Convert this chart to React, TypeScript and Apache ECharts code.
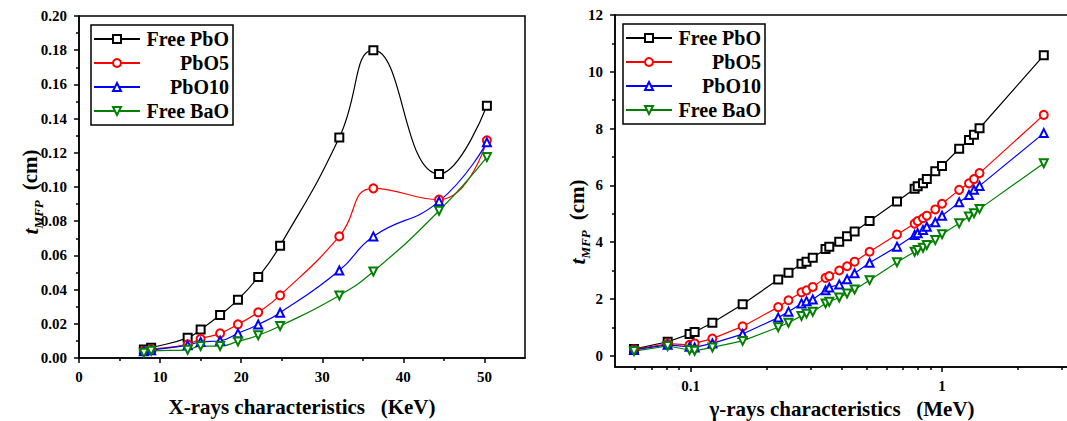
import React, { useEffect, useRef } from "react";
import * as echarts from "echarts";

const seriesNames = ["Free PbO", "PbO5", "PbO10", "Free BaO"];
const seriesColors = ["#000000", "#ff0000", "#0000ff", "#008000"];
const seriesSymbols = ["emptyRect", "emptyCircle", "emptyTriangle", "emptyTriangle"];
const seriesRotations = [0, 0, 0, 180];

// Left chart: X-rays (KeV)
const xrayEnergies = [8.0, 8.9, 13.4, 15.0, 17.4, 19.6, 22.1, 24.8, 32.1, 36.3, 44.4, 50.3];
const xrayFreePbO = [0.005, 0.006, 0.0118, 0.0166, 0.0251, 0.0341, 0.0473, 0.0657, 0.129, 0.18, 0.1076, 0.1475];
const xrayPbO5 = [0.0042, 0.005, 0.008, 0.0112, 0.0144, 0.0197, 0.0267, 0.0366, 0.0711, 0.0992, 0.0926, 0.1273];
const xrayPbO10 = [0.004, 0.0046, 0.0075, 0.0094, 0.0101, 0.0144, 0.0196, 0.0265, 0.0512, 0.0711, 0.0916, 0.1261];
const xrayFreeBaO = [0.003, 0.0042, 0.0048, 0.007, 0.007, 0.0097, 0.0133, 0.0187, 0.0366, 0.0506, 0.0861, 0.1175];

// Right chart: gamma-rays (MeV)
const gammaEnergies = [0.0595, 0.081, 0.099, 0.1037, 0.122, 0.161, 0.223, 0.245, 0.276, 0.289, 0.306, 0.344, 0.356, 0.39, 0.419, 0.449, 0.515, 0.662, 0.778, 0.8, 0.84, 0.87, 0.94, 1.0, 1.17, 1.28, 1.34, 1.41, 2.54];
const gammaFreePbO = [0.23, 0.49, 0.76, 0.83, 1.16, 1.81, 2.68, 2.92, 3.24, 3.31, 3.45, 3.76, 3.84, 4.01, 4.21, 4.37, 4.74, 5.43, 5.88, 5.97, 6.07, 6.22, 6.5, 6.68, 7.29, 7.6, 7.78, 8.01, 10.58];
const gammaPbO5 = [0.22, 0.42, 0.38, 0.43, 0.6, 1.03, 1.71, 1.95, 2.23, 2.3, 2.42, 2.74, 2.8, 3.0, 3.15, 3.31, 3.66, 4.27, 4.65, 4.74, 4.84, 4.93, 5.15, 5.35, 5.84, 6.07, 6.22, 6.43, 8.48];
const gammaPbO10 = [0.2, 0.38, 0.31, 0.29, 0.43, 0.76, 1.34, 1.55, 1.84, 1.92, 1.98, 2.3, 2.4, 2.51, 2.69, 2.9, 3.27, 3.84, 4.25, 4.31, 4.43, 4.54, 4.7, 4.93, 5.4, 5.66, 5.84, 5.98, 7.84];
const gammaFreeBaO = [0.16, 0.34, 0.2, 0.17, 0.29, 0.52, 1.0, 1.16, 1.4, 1.48, 1.55, 1.84, 1.9, 2.05, 2.19, 2.33, 2.66, 3.29, 3.66, 3.72, 3.8, 3.9, 4.07, 4.28, 4.66, 4.9, 5.02, 5.17, 6.78];

// Tick values
const xrayXMajor = [0, 10, 20, 30, 40, 50];
const xrayXMinor = [5, 15, 25, 35, 45];
const xrayYMajor = [0, 0.02, 0.04, 0.06, 0.08, 0.1, 0.12, 0.14, 0.16, 0.18, 0.2];
const xrayYMinor = [0.01, 0.03, 0.05, 0.07, 0.09, 0.11, 0.13, 0.15, 0.17, 0.19];
const gammaXMajor = [0.1, 1];
const gammaXMinor = [0.06, 0.07, 0.08, 0.09, 0.2, 0.3, 0.4, 0.5, 0.6, 0.7, 0.8, 0.9, 2, 3];
const gammaYMajor = [0, 2, 4, 6, 8, 10, 12];
const gammaYMinor = [1, 3, 5, 7, 9, 11];

const FONT = "Liberation Serif";
const AXIS_COLOR = "#000";

function majorAxis(extra: any, ticks: number[], fmt: (v: number) => string, margin: number) {
  return {
    ...extra,
    splitLine: { show: false },
    axisLine: { show: true, onZero: false, lineStyle: { color: AXIS_COLOR, width: 1.5 } },
    axisTick: { show: true, inside: false, length: 5, customValues: ticks, lineStyle: { color: AXIS_COLOR, width: 1.5 } },
    axisLabel: {
      show: true,
      customValues: ticks,
      formatter: (v: number) => fmt(v),
      margin,
      color: "#000",
      fontFamily: FONT,
      fontWeight: "bold",
      fontSize: 15,
    },
  };
}

function minorAxis(extra: any, ticks: number[]) {
  return {
    ...extra,
    splitLine: { show: false },
    axisLine: { show: false, onZero: false },
    axisTick: { show: true, inside: false, length: 3, customValues: ticks, lineStyle: { color: AXIS_COLOR, width: 1.5 } },
    axisLabel: { show: false },
  };
}

const legendBase = {
  orient: "vertical",
  borderColor: "#000",
  borderWidth: 1.5,
  padding: [4, 4, 4, 2],
  itemWidth: 46,
  itemHeight: 10,
  itemGap: 4,
  formatter: (name: string) => `{n|${name}}`,
  textStyle: {
    fontFamily: FONT,
    fontWeight: "bold",
    fontSize: 20,
    color: "#000",
    rich: {
      n: { width: 84, align: "right", fontFamily: FONT, fontWeight: "bold", fontSize: 20, lineHeight: 20, color: "#000" },
    },
  },
  data: seriesNames,
};

const yTitleRich = {
  t: { fontSize: 22, fontStyle: "italic", fontWeight: "bold", fontFamily: FONT, lineHeight: 30, verticalAlign: "middle", fill: "#000" },
  s: { fontSize: 13, fontStyle: "italic", fontWeight: "bold", fontFamily: FONT, lineHeight: 14, verticalAlign: "bottom", fill: "#000" },
  c: { fontSize: 21, fontWeight: "bold", fontFamily: FONT, lineHeight: 30, verticalAlign: "middle", fill: "#000" },
};

export default function App() {
  const ref = useRef<HTMLDivElement>(null);
  useEffect(() => {
    if (!ref.current) return;
    const chart = echarts.init(ref.current, null, { renderer: "svg" });
    const xrayData = [xrayFreePbO, xrayPbO5, xrayPbO10, xrayFreeBaO];
    const gammaData = [gammaFreePbO, gammaPbO5, gammaPbO10, gammaFreeBaO];
    const series: any[] = [];
    seriesNames.forEach((name, i) => {
      series.push({
        type: "line",
        name,
        xAxisIndex: 0,
        yAxisIndex: 0,
        data: xrayEnergies.map((e, j) => [e, xrayData[i][j]]),
        smooth: true,
        symbol: seriesSymbols[i],
        symbolRotate: seriesRotations[i],
        symbolSize: 8,
        lineStyle: { color: seriesColors[i], width: 1.2 },
        itemStyle: { color: seriesColors[i], borderWidth: 1 },
      });
    });
    seriesNames.forEach((name, i) => {
      series.push({
        type: "line",
        name,
        xAxisIndex: 2,
        yAxisIndex: 2,
        data: gammaEnergies.map((e, j) => [e, gammaData[i][j]]),
        smooth: false,
        symbol: seriesSymbols[i],
        symbolRotate: seriesRotations[i],
        symbolSize: 8,
        lineStyle: { color: seriesColors[i], width: 1.2 },
        itemStyle: { color: seriesColors[i], borderWidth: 1 },
      });
    });

    const option: any = {
      animation: false,
      backgroundColor: "#fff",
      textStyle: { fontFamily: FONT },
      grid: [
        { left: 79, top: 16, width: 446, height: 342, show: true, borderColor: "#000", borderWidth: 1.5, backgroundColor: "transparent", outerBoundsMode: "none", containLabel: false },
        { left: 615, top: 15, width: 454, height: 352, show: true, borderColor: "#000", borderWidth: 1.5, backgroundColor: "transparent", outerBoundsMode: "none", containLabel: false },
      ],
      xAxis: [
        {
          ...majorAxis({ gridIndex: 0, type: "value", position: "bottom", min: 0, max: 55 }, xrayXMajor, (v) => String(v), 11),
          name: "X-rays characteristics   (KeV)",
          nameLocation: "middle",
          nameGap: 38,
          nameTextStyle: { fontFamily: FONT, fontWeight: "bold", fontSize: 21, color: "#000" },
        },
        minorAxis({ gridIndex: 0, type: "value", position: "bottom", min: 0, max: 55 }, xrayXMinor),
        {
          ...majorAxis({ gridIndex: 1, type: "log", logBase: 10, position: "bottom", min: 0.05, max: 3.2 }, gammaXMajor, (v) => String(Math.round(v * 10) / 10), 11),
          name: "γ-rays characteristics   (MeV)",
          nameLocation: "middle",
          nameGap: 31,
          nameTextStyle: { fontFamily: FONT, fontWeight: "bold", fontSize: 21, color: "#000" },
        },
        minorAxis({ gridIndex: 1, type: "log", logBase: 10, position: "bottom", min: 0.05, max: 3.2 }, gammaXMinor),
      ],
      yAxis: [
        majorAxis({ gridIndex: 0, type: "value", position: "left", min: 0, max: 0.2 }, xrayYMajor, (v) => v.toFixed(2), 12),
        minorAxis({ gridIndex: 0, type: "value", position: "left", min: 0, max: 0.2 }, xrayYMinor),
        majorAxis({ gridIndex: 1, type: "value", position: "left", min: -0.4, max: 12 }, gammaYMajor, (v) => String(Math.round(v)), 12),
        minorAxis({ gridIndex: 1, type: "value", position: "left", min: -0.4, max: 12 }, gammaYMinor),
      ],
      legend: [
        { ...legendBase, left: 91, top: 25 },
        { ...legendBase, left: 623, top: 24 },
      ],
      graphic: [
        {
          type: "text",
          x: 30,
          y: 192,
          rotation: Math.PI / 2,
          style: { text: "{t|t}{s|MFP}   {c|(cm)}", rich: yTitleRich, align: "center", verticalAlign: "middle" },
        },
        {
          type: "text",
          x: 577,
          y: 222,
          rotation: Math.PI / 2,
          style: { text: "{t|t}{s|MFP}   {c|(cm)}", rich: yTitleRich, align: "center", verticalAlign: "middle" },
        },
      ],
      series,
    };
    chart.setOption(option);
    return () => chart.dispose();
  }, []);
  return <div ref={ref} style={{ position: "fixed", left: 0, top: 0, width: 1067, height: 421, background: "#fff" }} />;
}
